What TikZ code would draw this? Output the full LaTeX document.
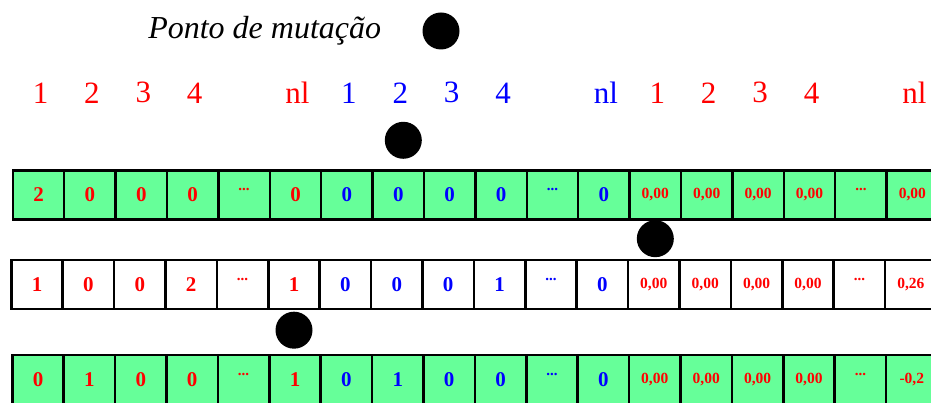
\documentclass[tikz,border=0pt]{standalone}
\usepackage{fontspec}
\setmainfont{Liberation Serif}
\usetikzlibrary{positioning}
\definecolor{genegreen}{HTML}{66FF99}
\definecolor{genered}{HTML}{FF0000}
\definecolor{geneblue}{HTML}{0000FF}
\tikzset{gene/.style={draw,line width=2.5pt,outer sep=0pt,inner sep=0pt,minimum width=51.4pt,minimum height=49pt,font=\fontsize{21}{21}\selectfont\bfseries},
	 gfill/.style={gene,fill=genegreen},
	 wfill/.style={gene,fill=white},
	 real/.style={font=\fontsize{15.5}{15.5}\selectfont\bfseries},
	 rd/.style={text=genered},
	 bl/.style={text=geneblue},
	 idx/.style={inner sep=0pt,xshift=2pt,font=\fontsize{31}{31}\selectfont},
	 ttlnode/.style={inner sep=0pt,font=\fontsize{32}{32}\selectfont\itshape},
	 mdot/.style={circle,fill=black,inner sep=0pt,minimum size=37pt},
	 node distance = 0pt
	 }
\newcommand{\gdots}{\smash{\raisebox{4pt}{\fontsize{15}{15}\selectfont\bfseries...}}}

\begin{document}
\begin{tikzpicture}[x=1pt,y=1pt] % mutation of a chromosome
        \useasboundingbox (0,0) rectangle (931,403);
        \node[mdot] (m0) at (441,372) {};
        \node[ttlnode] (ttl) [left=41pt of m0] {Ponto de mutação};
        % first chromosome
        \node[gfill,rd] (a1) at (38.5,208) {2};
        \node[gfill,rd] (a2) [right=of a1] {0};
        \node[gfill,rd] (a3) [right=of a2] {0};
        \node[gfill,rd] (a4) [right=of a3] {0};
        \node[gfill,rd] (a5) [right=of a4] {\gdots};
        \node[gfill,rd] (a6) [right=of a5] {0};
        \node[gfill,bl] (a7) [right=of a6] {0};
        \node[gfill,bl] (a8) [right=of a7] {0};
        \node[gfill,bl] (a9) [right=of a8] {0};
        \node[gfill,bl] (a10) [right=of a9] {0};
        \node[gfill,bl] (a11) [right=of a10] {\gdots};
        \node[gfill,bl] (a12) [right=of a11] {0};
        \node[gfill,rd,real] (a13) [right=of a12] {0,00};
        \node[gfill,rd,real] (a14) [right=of a13] {0,00};
        \node[gfill,rd,real] (a15) [right=of a14] {0,00};
        \node[gfill,rd,real] (a16) [right=of a15] {0,00};
        \node[gfill,rd,real] (a17) [right=of a16] {\gdots};
        \node[gfill,rd,real] (a18) [right=of a17] {0,00};
        % gene indices
        \node[idx,rd] (h1) [above=67pt of a1] {1};
        \node[idx,rd] (h2) [above=67pt of a2] {2};
        \node[idx,rd] (h3) [above=67pt of a3] {3};
        \node[idx,rd] (h4) [above=67pt of a4] {4};
        \node[idx,rd] (h5) [above=67pt of a6] {nl};
        \node[idx,bl] (h6) [above=67pt of a7] {1};
        \node[idx,bl] (h7) [above=67pt of a8] {2};
        \node[idx,bl] (h8) [above=67pt of a9] {3};
        \node[idx,bl] (h9) [above=67pt of a10] {4};
        \node[idx,bl] (h10) [above=67pt of a12] {nl};
        \node[idx,rd] (h11) [above=67pt of a13] {1};
        \node[idx,rd] (h12) [above=67pt of a14] {2};
        \node[idx,rd] (h13) [above=67pt of a15] {3};
        \node[idx,rd] (h14) [above=67pt of a16] {4};
        \node[idx,rd] (h15) [above=67pt of a18] {nl};
        % second chromosome
        \node[wfill,rd] (b1) [below=40.5pt of a1, xshift=-1.5pt] {1};
        \node[wfill,rd] (b2) [right=of b1] {0};
        \node[wfill,rd] (b3) [right=of b2] {0};
        \node[wfill,rd] (b4) [right=of b3] {2};
        \node[wfill,rd] (b5) [right=of b4] {\gdots};
        \node[wfill,rd] (b6) [right=of b5] {1};
        \node[wfill,bl] (b7) [right=of b6] {0};
        \node[wfill,bl] (b8) [right=of b7] {0};
        \node[wfill,bl] (b9) [right=of b8] {0};
        \node[wfill,bl] (b10) [right=of b9] {1};
        \node[wfill,bl] (b11) [right=of b10] {\gdots};
        \node[wfill,bl] (b12) [right=of b11] {0};
        \node[wfill,rd,real] (b13) [right=of b12] {0,00};
        \node[wfill,rd,real] (b14) [right=of b13] {0,00};
        \node[wfill,rd,real] (b15) [right=of b14] {0,00};
        \node[wfill,rd,real] (b16) [right=of b15] {0,00};
        \node[wfill,rd,real] (b17) [right=of b16] {\gdots};
        \node[wfill,rd,real] (b18) [right=of b17] {0,26};
        % third chromosome
        \node[gfill,rd] (c1) [below=46pt of b1, xshift=1pt] {0};
        \node[gfill,rd] (c2) [right=of c1] {1};
        \node[gfill,rd] (c3) [right=of c2] {0};
        \node[gfill,rd] (c4) [right=of c3] {0};
        \node[gfill,rd] (c5) [right=of c4] {\gdots};
        \node[gfill,rd] (c6) [right=of c5] {1};
        \node[gfill,bl] (c7) [right=of c6] {0};
        \node[gfill,bl] (c8) [right=of c7] {1};
        \node[gfill,bl] (c9) [right=of c8] {0};
        \node[gfill,bl] (c10) [right=of c9] {0};
        \node[gfill,bl] (c11) [right=of c10] {\gdots};
        \node[gfill,bl] (c12) [right=of c11] {0};
        \node[gfill,rd,real] (c13) [right=of c12] {0,00};
        \node[gfill,rd,real] (c14) [right=of c13] {0,00};
        \node[gfill,rd,real] (c15) [right=of c14] {0,00};
        \node[gfill,rd,real] (c16) [right=of c15] {0,00};
        \node[gfill,rd,real] (c17) [right=of c16] {\gdots};
        \node[gfill,rd,real] (c18) [right=of c17] {-0,2};
        % mutation points
        \node[mdot] (m1) [above=11.5pt of a8, xshift=5pt] {};
        \node[mdot] (m2) [below=0.5pt of a13] {};
        \node[mdot] (m3) [below=2.5pt of b6] {};
\end{tikzpicture}
\end{document}
